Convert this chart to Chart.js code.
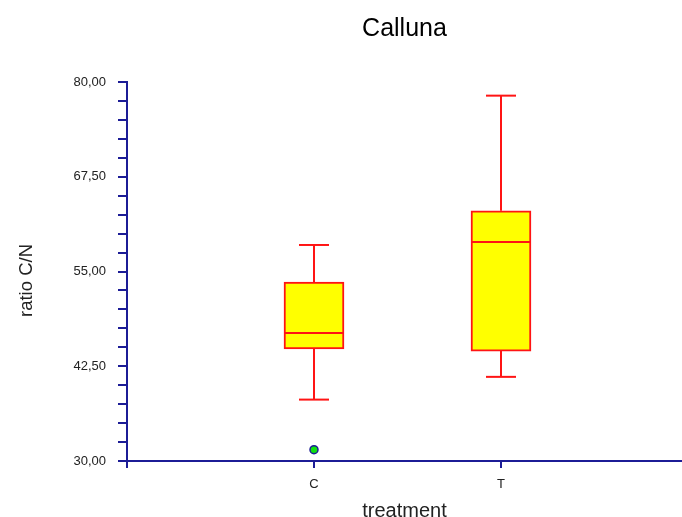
<!DOCTYPE html>
<html>
<head>
<meta charset="utf-8">
<title>Calluna</title>
<script src="https://cdn.jsdelivr.net/npm/chart.js@4/dist/chart.umd.min.js"></script>
<style>
  html, body { margin: 0; padding: 0; background: #ffffff; }
  #wrap { width: 682px; height: 517px; }
</style>
</head>
<body>
<div id="wrap"><canvas id="chart" width="682" height="517"></canvas></div>
<script>
// Box-plot summary of C/N ratio per treatment
const categories   = ['C', 'T'];
const lowerWhisker = [38.1, 41.1];
const lowerQuart   = [44.8, 44.5];
const medians      = [46.9, 58.9];
const upperQuart   = [53.6, 63.0];
const upperWhisker = [58.5, 78.2];
const outliers     = [[31.5], []];

// Value axis range and tick spacing
const yMin = 30, yMax = 80, yMinorStep = 2.5, yLabelStep = 12.5;

const chartTitle = 'Calluna';
const xTitle = 'treatment';
const yTitle = 'ratio C/N';

const AXIS = '#1c1c96';
const RED = '#ff1414';
const FONT = "'Liberation Sans', Arial, sans-serif";

const fmt = v => v.toFixed(2).replace('.', ',');
const isLabelTick = v => {
  const k = (v - yMin) / yLabelStep;
  return Math.abs(k - Math.round(k)) < 1e-6;
};

// Whiskers, caps and median lines drawn from the summary arrays via the chart scales
const boxWhiskers = {
  id: 'boxWhiskers',
  beforeDatasetsDraw(chart) {
    const { ctx, scales: { x, y } } = chart;
    const bars = chart.getDatasetMeta(0).data;
    ctx.save();
    ctx.strokeStyle = RED;
    ctx.lineWidth = 2;
    categories.forEach((c, i) => {
      const cx = Math.round(x.getPixelForValue(i + 1));
      const half = bars[i].width / 4;
      const seg = (x1, y1, x2, y2) => { ctx.beginPath(); ctx.moveTo(x1, y1); ctx.lineTo(x2, y2); ctx.stroke(); };
      const yHi = y.getPixelForValue(upperWhisker[i]);
      const yLo = y.getPixelForValue(lowerWhisker[i]);
      seg(cx, y.getPixelForValue(upperQuart[i]), cx, yHi);
      seg(cx, y.getPixelForValue(lowerQuart[i]), cx, yLo);
      seg(cx - half, yHi, cx + half, yHi);
      seg(cx - half, yLo, cx + half, yLo);
    });
    ctx.restore();
  },
  afterDatasetsDraw(chart) {
    const { ctx, scales: { x, y } } = chart;
    const bars = chart.getDatasetMeta(0).data;
    ctx.save();
    ctx.strokeStyle = RED;
    ctx.lineWidth = 2;
    categories.forEach((c, i) => {
      const cx = x.getPixelForValue(i + 1);
      const half = bars[i].width / 2;
      const ym = y.getPixelForValue(medians[i]);
      ctx.beginPath();
      ctx.moveTo(cx - half, ym);
      ctx.lineTo(cx + half, ym);
      ctx.stroke();
    });
    ctx.restore();
  }
};

// Rotated value-axis caption, set a little below the plot's vertical centre
const valueAxisCaption = {
  id: 'valueAxisCaption',
  afterDraw(chart) {
    const { ctx, chartArea } = chart;
    ctx.save();
    ctx.translate(27, (chartArea.top + chartArea.bottom) / 2 + 9);
    ctx.rotate(-Math.PI / 2);
    ctx.fillStyle = '#222222';
    ctx.font = '18.5px ' + FONT;
    ctx.textAlign = 'center';
    ctx.textBaseline = 'middle';
    ctx.fillText(yTitle, 0, 0);
    ctx.restore();
  }
};

const boxData = categories.map((c, i) => ({ x: i + 1, y: [lowerQuart[i], upperQuart[i]] }));
const outlierData = [];
outliers.forEach((list, i) => list.forEach(v => outlierData.push({ x: i + 1, y: v })));

new Chart(document.getElementById('chart'), {
  type: 'bar',
  data: {
    datasets: [
      {
        type: 'bar',
        xAxisID: 'x',
        yAxisID: 'y',
        data: boxData,
        backgroundColor: '#ffff00',
        borderColor: RED,
        borderWidth: 2,
        borderSkipped: false,
        barThickness: 60
      },
      {
        type: 'scatter',
        xAxisID: 'x',
        yAxisID: 'y',
        data: outlierData,
        pointRadius: 4,
        pointBackgroundColor: '#10e010',
        pointBorderColor: AXIS,
        pointBorderWidth: 1.5
      }
    ]
  },
  options: {
    responsive: false,
    animation: false,
    events: [],
    layout: { padding: 0, autoPadding: false },
    plugins: {
      legend: { display: false },
      tooltip: { enabled: false },
      title: { display: false }
    },
    scales: {
      x: {
        type: 'linear',
        axis: 'x',
        min: 0,
        max: 2.968,
        offset: false,
        afterFit(scale) {
          scale.height = 56;
          scale.paddingLeft = 0;
          scale.paddingRight = 0;
        },
        afterBuildTicks(scale) {
          scale.ticks = [0, 1, 2].map(v => ({ value: v }));
        },
        ticks: {
          color: '#222222',
          font: { family: FONT, size: 13 },
          padding: 9,
          autoSkip: false,
          maxRotation: 0,
          callback: v => (v >= 1 && v <= categories.length ? categories[v - 1] : '')
        },
        grid: {
          offset: false,
          drawOnChartArea: false,
          drawTicks: true,
          tickLength: 7,
          color: AXIS,
          lineWidth: 2
        },
        border: { display: true, color: AXIS, width: 2 },
        title: {
          display: true,
          text: xTitle,
          color: '#222222',
          font: { family: FONT, size: 20 },
          padding: { top: 0, bottom: -6 }
        }
      },
      y: {
        type: 'linear',
        axis: 'y',
        min: yMin,
        max: yMax,
        afterFit(scale) { scale.width = 127; },
        afterBuildTicks(scale) {
          const t = [];
          for (let v = yMin; v <= yMax + 1e-9; v += yMinorStep) t.push({ value: v });
          scale.ticks = t;
        },
        ticks: {
          color: '#222222',
          font: { family: FONT, size: 13 },
          padding: 12,
          autoSkip: false,
          callback: v => (isLabelTick(v) ? fmt(v) : '')
        },
        grid: {
          drawOnChartArea: false,
          drawTicks: true,
          tickLength: 9,
          color: AXIS,
          lineWidth: 2
        },
        border: { display: true, color: AXIS, width: 2 },
        title: { display: false }
      },
      // top axis only carries the chart title, centred over the plot area
      titleAxis: {
        type: 'linear',
        axis: 'x',
        position: 'top',
        display: true,
        afterFit(scale) {
          scale.height = 82;
          scale.paddingLeft = 0;
          scale.paddingRight = 0;
        },
        ticks: { display: false },
        grid: { display: false, drawTicks: false },
        border: { display: false },
        title: {
          display: true,
          text: chartTitle,
          color: '#000000',
          font: { family: FONT, size: 25, weight: 'normal' },
          padding: { top: 14, bottom: 0 }
        }
      }
    }
  },
  plugins: [boxWhiskers, valueAxisCaption]
});
</script>
</body>
</html>
